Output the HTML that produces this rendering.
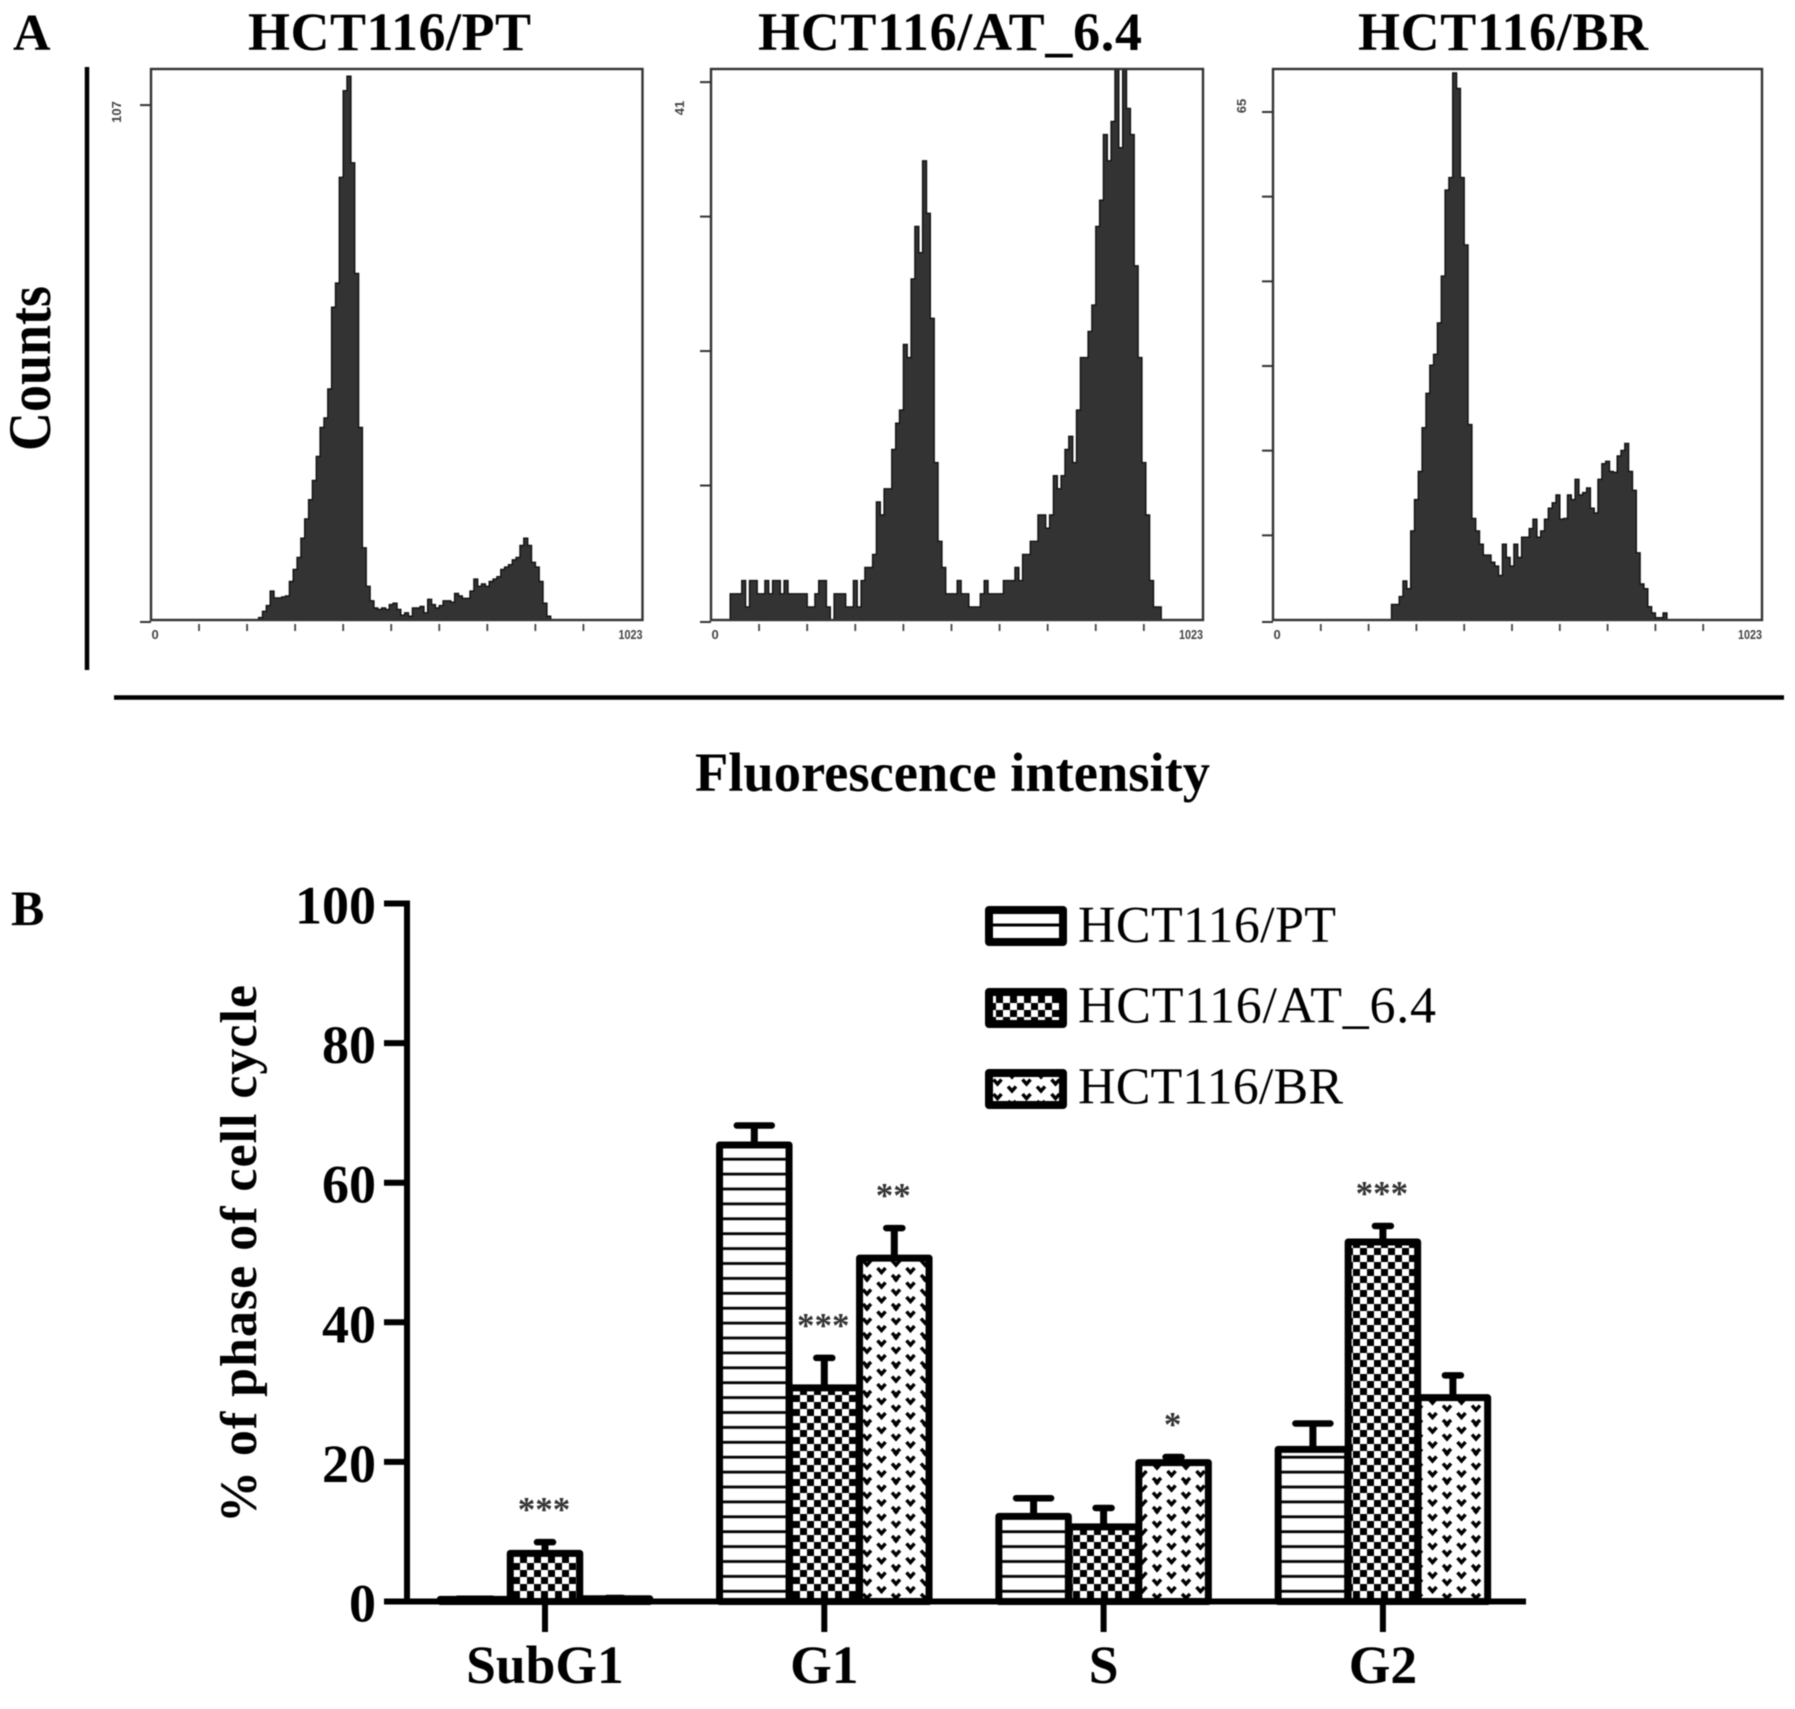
<!DOCTYPE html>
<html lang="en">
<head>
<meta charset="utf-8">
<title>HCT116 cell cycle analysis</title>
<style>
html,body{margin:0;padding:0;background:#fff;width:1795px;height:1709px;overflow:hidden}
svg{display:block;filter:blur(.45px)}
.serif{font-family:"Liberation Serif",serif}
.b{font-weight:bold}
.small{font-family:"Liberation Sans",sans-serif;font-weight:bold;font-size:13px;fill:#444}
</style>
</head>
<body>
<svg id="fig" xmlns="http://www.w3.org/2000/svg" width="1795" height="1709" viewBox="0 0 1795 1709">
<defs>
<pattern id="pat-lines" patternUnits="userSpaceOnUse" width="20" height="14.9" y="1152.5">
<rect width="20" height="14.9" fill="#fff"/><rect y="5.3" width="20" height="2.8" fill="#000"/>
</pattern>
<pattern id="pat-check" patternUnits="userSpaceOnUse" width="14" height="14" x="2" y="2">
<rect width="14" height="14" fill="#fff"/><rect width="7" height="7" fill="#000"/><rect x="7" y="7" width="7" height="7" fill="#000"/>
</pattern>
<pattern id="pat-vee" patternUnits="userSpaceOnUse" width="29" height="29" x="4" y="3">
<rect width="29" height="29" fill="#fff"/>
<path d="M3.5 3.5 L7.5 8 L11.5 3.5 M3.5 18 L7.5 22.5 L11.5 18 M18 10.5 L22 15 L26 10.5 M18 25 L22 29 L26 25 M18 -3.5 L22 1 L26 -3.5" fill="none" stroke="#000" stroke-width="3.5"/>
</pattern>
<pattern id="pat-lines-legend" patternUnits="userSpaceOnUse" width="20" height="40" x="985" y="906">
<rect width="20" height="40" fill="#fff"/><rect y="17.5" width="20" height="3" fill="#000"/>
</pattern>
</defs>

<text class="serif b" x="13" y="50" font-size="52">A</text>
<text class="serif b" x="248" y="50" font-size="54" textLength="283">HCT116/PT</text>
<text class="serif b" x="758" y="50" font-size="54" textLength="384">HCT116/AT_6.4</text>
<text class="serif b" x="1358" y="50" font-size="54" textLength="290">HCT116/BR</text>

<text class="serif b" transform="translate(50,451) rotate(-90)" font-size="60" textLength="165" lengthAdjust="spacingAndGlyphs">Counts</text>
<line x1="87" y1="67" x2="87" y2="670" stroke="#000" stroke-width="4.5"/>
<line x1="114" y1="697.5" x2="1784" y2="697.5" stroke="#000" stroke-width="4.5"/>
<text class="serif b" x="695" y="791" font-size="55" textLength="515" lengthAdjust="spacingAndGlyphs">Fluorescence intensity</text>

<g id="histograms"></g>

<text class="serif b" x="11" y="925" font-size="50">B</text>
<text class="serif b" transform="translate(256,1523) rotate(-90)" font-size="52" textLength="538">% of phase of cell cycle</text>

<g id="bars"></g>

<g>
<rect x="989" y="910" width="74" height="32" fill="url(#pat-lines-legend)" stroke="#000" stroke-width="8" stroke-linejoin="round"/>
<text class="serif" x="1078" y="942" font-size="52" textLength="258">HCT116/PT</text>
<rect x="989" y="992" width="74" height="32" fill="url(#pat-check)" stroke="#000" stroke-width="8" stroke-linejoin="round"/>
<text class="serif" x="1078" y="1022.5" font-size="52" textLength="358">HCT116/AT_6.4</text>
<rect x="989" y="1073" width="74" height="32" fill="url(#pat-vee)" stroke="#000" stroke-width="8" stroke-linejoin="round"/>
<text class="serif" x="1078" y="1103.5" font-size="52" textLength="265">HCT116/BR</text>
</g>
</svg>

<script>
/* Flow-cytometry histograms: counts per 8-channel bin, channels 0..1023 */
var histPT = [0,0,0,0,0,0,0,0,0,0,0,0,0,0,0,0,0,0,0,0,0,0,0,0,0,0,0,0,0.5,1.8,3,6,4.6,4.6,4.8,5,8,10.5,13,17,21,25,29,34,40,42,48,65,70,92,110,113,95,72,40,15,7,4,2.5,2.2,2.5,2.2,3.2,3.5,2.2,1,1.5,0.8,2.5,2.5,2.8,1.5,4.3,3.2,2.5,3,4,4,3.7,5.5,5,4.5,4.5,6,8.5,7,7.5,7,8,8.5,9,10.5,11,11.5,12.5,13,15.5,17,15.5,12,11,8,3.5,0.8,0,0,0,0,0,0,0,0,0,0,0,0,0,0,0,0,0,0,0,0,0,0,0,0];
var histAT = [0,0,0,0,0,2,2,2,3,1,3,3,2,2,3,2,3,3,2,3,2,2,2,2,2,1,1,2,3,3,1,0,2,2,2,1,1,3,1,3,4,4,5,9,8,10,10,13,15,16,21,20,26,30,28,35,31,23,12,6,4,2,2,2,3,2,2,1,1,1,2,3,2,2,2,2,3,3,3,4,3,5,5,6,6,8,8,7,8,11,10,11,13,14,12,16,20,20,22,24,30,32,37,35,38,42,36,42,39,37,27,20,12,8,3,1,1,0,0,0,0,0,0,0,0,0,0,0];
var histBR = [0,0,0,0,0,0,0,0,0,0,0,0,0,0,0,0,0,0,0,0,0,0,0,0,0,0,0,0,0,0,0,2,2,3,5,4,11.4,15.4,19,24.6,29,32.6,34,38,44,55,56.6,70,68,56.6,48,25,13,11.4,9.7,8.3,8.3,7.4,6.9,5.7,9.7,8,6.9,9.7,8,10.6,10.6,11.7,12.9,10.6,11.4,12.9,14.3,15,16,12.9,13,16,15.4,18,16,16.3,16.9,14.3,13.7,18,20,20.3,19,18.9,21,21.7,22.6,19,16.6,8.6,4.6,4,1.7,0.9,0.3,0.3,0.9,0,0,0,0,0,0,0,0,0,0,0,0,0,0,0,0,0,0,0,0,0,0,0,0,0];
var xTickChannels = [0,100,200,300,400,500,600,700,800,900];
var yTicksPT = [0,107];
var yTicksAT = [0,10.25,20.5,30.75,41];
var yTicksBR = [0,10.83,21.67,32.5,43.33,54.17,65];
var yMaxPT = 114.5;
var yMaxAT = 42;
var yMaxBR = 70.5;

/* Bar chart values */
var categories = ['SubG1','G1','S','G2'];
var seriesNames = ['pt','at','br'];
var valuesPT = [0.3,65.4,12.2,21.8];
var valuesAT = [6.9,30.6,10.7,51.5];
var valuesBR = [0.4,49.2,19.9,29.2];
var errorTopPT = [0.4,68.2,14.8,25.5];
var errorTopAT = [8.5,34.9,13.4,53.8];
var errorTopBR = [0.5,53.5,20.7,32.4];
var starsAT = ['***','***','','***'];
var starsBR = ['','**','*',''];
var yTickLabels = [0,20,40,60,80,100];

var NS = 'http://www.w3.org/2000/svg';
function mk(parent, tag, attrs, txt) {
  var el = document.createElementNS(NS, tag);
  for (var k in attrs) el.setAttribute(k, attrs[k]);
  if (txt !== undefined) el.textContent = txt;
  parent.appendChild(el);
  return el;
}

var TOP = 69, BASE = 620;
function drawHistogram(key, x0, x1, counts, yMax, yTicks, topLabel, labelX, labelY) {
  var root = document.getElementById('histograms');
  var g = mk(root, 'g', {});
  
  
  var xS = function (c) { return x0 + c / 1023 * (x1 - x0); };
  var yS = function (n) { return BASE - n / yMax * (BASE - TOP); };
  var d = 'M' + xS(0) + ' ' + BASE;
  counts.forEach(function (n, i) {
    d += 'L' + xS(i * 8).toFixed(1) + ' ' + yS(n).toFixed(1) + 'L' + xS((i + 1) * 8).toFixed(1) + ' ' + yS(n).toFixed(1);
  });
  d += 'L' + xS(counts.length * 8).toFixed(1) + ' ' + BASE + 'Z';
  var area = mk(g, 'path', {d: d, fill: '#333', stroke: '#111', 'stroke-width': 1.4});
  
  
  var frame = mk(g, 'rect', {x: x0, y: TOP, width: x1 - x0, height: BASE - TOP, fill: 'none', stroke: '#333', 'stroke-width': 2.4});
  
  
  xTickChannels.forEach(function (c) {
    if (c === 0) return;
    var t = mk(g, 'line', {x1: xS(c), x2: xS(c), y1: 624, y2: 631, stroke: '#444', 'stroke-width': 1.8});
    
    
  });
  yTicks.forEach(function (v) {
    var y = v === 0 ? BASE + 2 : yS(v);
    var t = mk(g, 'line', {x1: x0 - 11, x2: x0, y1: y, y2: y, stroke: '#333', 'stroke-width': 2});
    
    
  });
  var zero = mk(g, 'text', {'class': 'small', x: x0 + 0.5, y: 639}, '0');
  
  
  var maxL = mk(g, 'text', {'class': 'small', x: x1 - 24, y: 639, textLength: 24, lengthAdjust: 'spacingAndGlyphs'}, '1023');
  
  
  var top = mk(g, 'text', {'class': 'small', transform: 'translate(' + labelX + ',' + labelY + ') rotate(-90)', 'text-anchor': 'middle'}, topLabel);
  
  
}
drawHistogram('pt', 151, 642.5, histPT, yMaxPT, yTicksPT, '107', 121, 112);
drawHistogram('at', 711, 1203, histAT, yMaxAT, yTicksAT, '41', 684, 108);
drawHistogram('br', 1273, 1762, histBR, yMaxBR, yTicksBR, '65', 1246, 106);

/* Bar chart */
var barRoot = document.getElementById('bars');
var Y0 = 1601.5, PX_PER_UNIT = 6.98;
function yB(v) { return Y0 - v * PX_PER_UNIT; }
function groupX(i) { return 545 + 279.3 * i; }
function seriesX(i, s) { return groupX(i) + (s - 1) * 70; }
var BAR_W = 69.5;
var allValues = [valuesPT, valuesAT, valuesBR];
var allErrors = [errorTopPT, errorTopAT, errorTopBR];
var allStars = [null, starsAT, starsBR];
var fills = ['url(#pat-lines)', 'url(#pat-check)', 'url(#pat-vee)'];
var capHalf = [17.5, 8, 8];

categories.forEach(function (cat, i) {
  [0, 1, 2].forEach(function (s) {
    var v = allValues[s][i], e = allErrors[s][i], cx = seriesX(i, s);
    var stem = mk(barRoot, 'line', {x1: cx, x2: cx, y1: yB(v), y2: yB(e), stroke: '#000', 'stroke-width': 7});
    
    
    var cap = mk(barRoot, 'line', {x1: cx - capHalf[s], x2: cx + capHalf[s], y1: yB(e), y2: yB(e), stroke: '#000', 'stroke-width': 6.5, 'stroke-linecap': 'round'});
    
    
    var r = mk(barRoot, 'rect', {x: cx - BAR_W / 2, y: yB(v), width: BAR_W, height: Y0 - yB(v), fill: fills[s], stroke: '#000', 'stroke-width': 7, 'stroke-linejoin': 'round'});
    
    
    var st = allStars[s] ? allStars[s][i] : '';
    if (st) {
      var t = mk(barRoot, 'text', {'class': 'serif b', x: cx - 1, y: yB(e) - 21, 'font-size': 35, fill: '#333', 'text-anchor': 'middle'}, st);
      
      
    }
  });
  var tick = mk(barRoot, 'line', {x1: groupX(i), x2: groupX(i), y1: Y0, y2: 1632, stroke: '#000', 'stroke-width': 6});
  
  
  var lab = mk(barRoot, 'text', {'class': 'serif b', x: groupX(i), y: 1683, 'font-size': 53.5, 'text-anchor': 'middle'}, cat);
  
  
});

var xAxis = mk(barRoot, 'line', {x1: 384, x2: 1526, y1: Y0, y2: Y0, stroke: '#000', 'stroke-width': 6});


var yAxis = mk(barRoot, 'line', {x1: 407, x2: 407, y1: yB(100) - 3, y2: Y0 + 3, stroke: '#000', 'stroke-width': 6});


yTickLabels.forEach(function (v) {
  var tk = mk(barRoot, 'line', {x1: 384, x2: 407, y1: yB(v), y2: yB(v), stroke: '#000', 'stroke-width': 6});
  
  
  var tl = mk(barRoot, 'text', {'class': 'serif b', x: 376, y: yB(v) + 20, 'font-size': 54, 'text-anchor': 'end'}, String(v));
  
  
});
</script>
</body>
</html>
